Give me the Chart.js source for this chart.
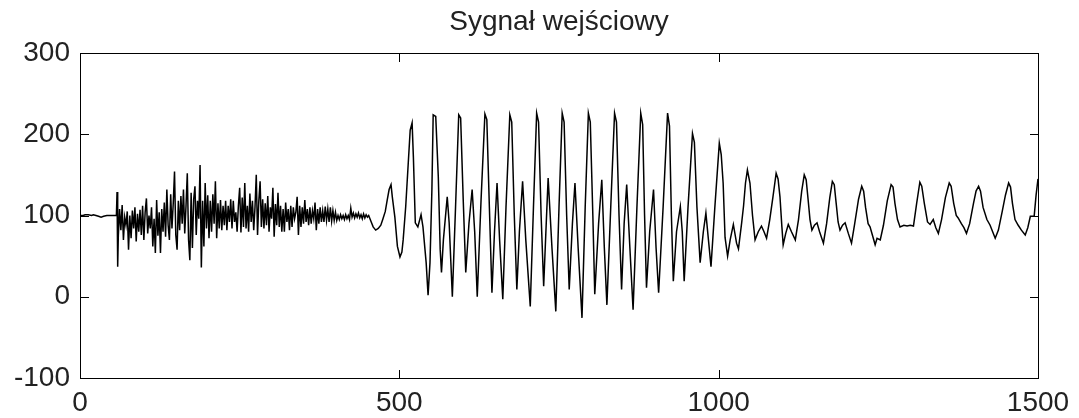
<!DOCTYPE html>
<html>
<head>
<meta charset="utf-8">
<script src="https://cdn.jsdelivr.net/npm/chart.js@4/dist/chart.umd.min.js"></script>
<style>
  html, body { margin: 0; padding: 0; background: #fff; }
  #wrap { width: 1079px; height: 418px; }
</style>
</head>
<body>
<div id="wrap"><canvas id="c" width="1079" height="418"></canvas></div>
<script>
// ---- data ----
const chartTitle = 'Sygnał wejściowy';
const xTickValues = [0, 500, 1000, 1500];
const yTickValues = [-100, 0, 100, 200, 300];

// quiet start: [sample, value]
const flatSegment = [
  [0,100],[5,100],[8,101],[13,101],[18,100],[21,101],[25,100],[29,99],[33,98],[37,99],[42,100],[50,100],[57,100],
  [58,129],[59,37]
];

// noisy part, one value every 2 samples starting at sample 60
const noiseStart = 60;
const noiseStep = 2;
const noiseValues = [
  75,108,82,113,70,98,88,105,58,100,
  72,106,84,110,68,102,80,107,76,112,
  70,104,121,78,100,84,110,62,96,54,
  119,75,104,54,108,80,116,74,132,88,
  70,126,84,115,154,76,58,118,82,124,
  90,132,78,112,152,70,45,128,60,120,
  136,76,118,96,162,36,118,62,140,84,
  125,72,118,80,126,90,142,72,115,84,
  119,82,112,88,118,82,112,92,120,84,
  118,92,104,80,112,134,79,122,86,140,
  84,112,80,127,92,118,82,110,150,76,
  118,142,86,120,84,115,88,124,80,110,
  96,134,74,114,88,128,86,112,80,108,
  80,116,92,108,82,112,86,110,96,104,
  123,76,112,86,110,90,119,92,108,88,
  110,90,106,96,116,82,108,90,110,92,
  106,92,111,94,108,92,110,93,106,94,
  104,94,100,95,101,96,100,95,101,96,
  100,95,109,98,103,97,102,98,103,97,
  101,96,102,97,101,98,100,96
];

// oscillating part: [sample, value]
const burstSegment = [
  [456,92],[459,86],[463,82],[467,84],[471,88],[474,95],[478,105],[481,119],[484,132],[487,138],
  [489,123],[493,98],[497,62],[501,49],[504,55],[506,70],[510,111],[514,165],[517,205],[520,214],
  [522,172],[525,91],[529,86],[534,101],[537,86],[542,42],[545,2],[548,42],[551,132],[553,224],
  [557,222],[561,148],[564,58],[566,30],[569,70],[575,123],[578,91],[583,0],
  [588,110],[593,224],[596,220],[600,120],[604,30],[609,90],[614,132],[618,80],[622,0],
  [628,120],[634,225],[637,218],[641,110],[645,5],[649,80],[653,140],[657,70],[662,-3],
  [667,110],[673,224],[676,215],[680,100],[684,9],[688,80],[693,142],[698,70],[705,-12],
  [710,110],[715,226],[718,215],[722,100],[726,13],[730,90],[733,146],[739,60],[745,-18],
  [750,110],[755,226],[758,215],[762,100],[766,9],[771,90],[775,140],[780,60],[786,-26],
  [791,110],[796,226],[799,215],[803,100],[806,3],[812,90],[817,144],[821,60],[825,-10],
  [831,110],[837,226],[840,215],[844,100],[848,9],[852,90],[856,138],[861,60],[866,-16],
  [872,110],[878,226],[881,212],[884,100],[887,11],[892,80],[898,132],[902,60],[906,5],
  [913,110],[920,226],[923,210],[926,100],[929,19],[934,80],[940,111],[943,80],[946,19],
  [952,110],[959,201],[962,190],[966,110],[971,42],[976,80],[980,103],[984,70],[988,37],
  [994,110],[1001,189],[1004,175],[1007,140],[1010,73],[1014,50],[1018,70],[1023,89],[1028,66],
  [1031,59],[1036,91],[1039,112],[1042,140]
];

// slow tail: [sample, value]
const tailSegment = [
  [1045,156],[1049,140],[1053,100],[1057,70],[1062,80],[1067,87],[1071,80],[1075,72],[1080,95],[1085,123],
  [1090,152],[1093,145],[1096,123],[1099,86],[1101,64],[1105,78],[1109,89],[1114,80],[1120,70],[1125,95],
  [1130,130],[1134,150],[1137,144],[1140,120],[1143,95],[1146,82],[1150,88],[1154,91],[1158,80],[1164,66],
  [1169,90],[1174,122],[1178,142],[1181,138],[1184,115],[1187,92],[1190,82],[1194,88],[1198,91],[1203,78],
  [1208,66],[1213,90],[1219,120],[1224,136],[1227,130],[1230,110],[1234,90],[1237,86],[1241,75],[1245,64],
  [1248,72],[1253,70],[1258,88],[1264,118],[1270,138],[1273,135],[1276,115],[1280,95],[1284,86],[1290,88],
  [1295,87],[1300,88],[1305,87],[1310,115],[1315,141],[1318,136],[1322,115],[1327,92],[1331,89],[1336,95],
  [1340,85],[1344,78],[1349,95],[1355,122],[1361,140],[1364,136],[1368,115],[1372,100],[1375,97],[1380,90],
  [1384,85],[1388,78],[1393,90],[1399,115],[1403,130],[1407,136],[1410,130],[1414,110],[1420,95],[1425,88],
  [1429,80],[1433,72],[1438,82],[1444,105],[1449,125],[1454,140],[1457,135],[1460,115],[1464,95],[1469,88],
  [1474,82],[1480,76],[1484,85],[1488,99],[1494,99],[1497,125],[1500,145]
];

// ---- build the point list ----
const points = [];
flatSegment.forEach(([t, v]) => points.push({ x: t, y: v }));
noiseValues.forEach((v, i) => points.push({ x: noiseStart + i * noiseStep, y: v }));
burstSegment.forEach(([t, v]) => points.push({ x: t, y: v }));
tailSegment.forEach(([t, v]) => points.push({ x: t, y: v }));

const FONT = "'Liberation Sans', Arial, Helvetica, sans-serif";
const TEXT = '#222';

const framePlugin = {
  id: 'frame',
  afterDraw(chart) {
    const { ctx, chartArea: a, scales } = chart;
    const L = Math.round(a.left), R = Math.round(a.right), T = Math.round(a.top), B = Math.round(a.bottom);
    ctx.save();
    ctx.strokeStyle = '#000';
    ctx.lineWidth = 1;
    ctx.strokeRect(L + 0.5, T + 0.5, R - L, B - T);
    const tick = 9;
    ctx.beginPath();
    scales.y.ticks.forEach(t => {
      const py = Math.round(scales.y.getPixelForValue(t.value)) + 0.5;
      ctx.moveTo(L, py); ctx.lineTo(L + tick, py);
      ctx.moveTo(R + 1, py); ctx.lineTo(R + 1 - tick, py);
    });
    scales.x.ticks.forEach(t => {
      const px = Math.round(scales.x.getPixelForValue(t.value)) + 0.5;
      ctx.moveTo(px, B + 1); ctx.lineTo(px, B + 1 - tick);
      ctx.moveTo(px, T); ctx.lineTo(px, T + tick);
    });
    ctx.stroke();
    ctx.restore();
  }
};

new Chart(document.getElementById('c'), {
  type: 'line',
  data: {
    datasets: [{
      data: points,
      borderColor: '#000',
      borderWidth: 1.5,
      pointRadius: 0,
      tension: 0,
      fill: false
    }]
  },
  options: {
    responsive: false,
    animation: false,
    devicePixelRatio: 1,
    layout: { padding: { left: 0, right: 41, top: 0, bottom: 0 } },
    plugins: {
      legend: { display: false },
      tooltip: { enabled: false },
      title: {
        display: true,
        text: chartTitle,
        fullSize: false,
        color: TEXT,
        font: { family: FONT, size: 28, weight: 'normal' },
        padding: { top: 5, bottom: 14.4 }
      }
    },
    scales: {
      x: {
        type: 'linear',
        min: xTickValues[0],
        max: xTickValues[xTickValues.length - 1],
        afterBuildTicks: s => { s.ticks = xTickValues.map(v => ({ value: v })); },
        ticks: { color: TEXT, font: { family: FONT, size: 28 }, padding: 8, maxRotation: 0, autoSkip: false,
                 callback: v => String(v) },
        grid: { display: false, drawTicks: false },
        border: { display: false },
        afterFit: s => { s.height = 40; }
      },
      y: {
        type: 'linear',
        min: yTickValues[0],
        max: yTickValues[yTickValues.length - 1],
        afterBuildTicks: s => { s.ticks = yTickValues.map(v => ({ value: v })); },
        ticks: { color: TEXT, font: { family: FONT, size: 28 }, padding: 10, autoSkip: false,
                 callback: v => String(v) },
        grid: { display: false, drawTicks: false },
        border: { display: false },
        afterFit: s => { s.width = 80; }
      }
    }
  },
  plugins: [framePlugin]
});
</script>
</body>
</html>
